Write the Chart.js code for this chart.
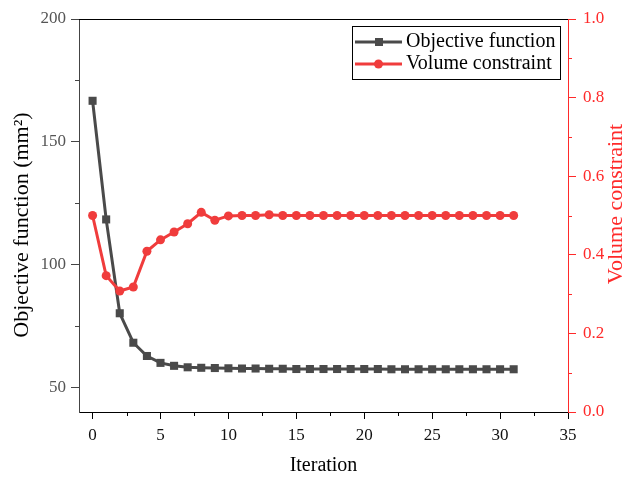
<!DOCTYPE html>
<html>
<head>
<meta charset="utf-8">
<script src="https://cdn.jsdelivr.net/npm/chart.js@4.4.1/dist/chart.umd.min.js"></script>
<style>
  body { margin: 0; background: #fff; }
  #wrap { width: 626px; height: 478px; }
</style>
</head>
<body>
<div id="wrap"><canvas id="myChart"></canvas></div>
<script>
const iterations = [0, 1, 2, 3, 4, 5, 6, 7, 8, 9, 10, 11, 12, 13, 14, 15, 16, 17, 18, 19, 20, 21, 22, 23, 24, 25, 26, 27, 28, 29, 30, 31];
const objective = [166.7, 118.4, 80.2, 68.2, 62.8, 60.0, 58.8, 58.2, 58.0, 57.9, 57.8, 57.7, 57.7, 57.6, 57.6, 57.5,
  57.5, 57.5, 57.5, 57.5, 57.5, 57.5, 57.4, 57.4, 57.4, 57.4, 57.4, 57.4, 57.4, 57.4, 57.4, 57.4];
const volume = [0.50, 0.347, 0.308, 0.318, 0.409, 0.438, 0.458, 0.479, 0.508, 0.488, 0.499, 0.50, 0.50, 0.502, 0.50, 0.50,
  0.50, 0.50, 0.50, 0.50, 0.50, 0.50, 0.50, 0.50, 0.50, 0.50, 0.50, 0.50, 0.50, 0.50, 0.50, 0.50];

const xTicks = [0, 5, 10, 15, 20, 25, 30, 35];
const xMinor = [2.5, 7.5, 12.5, 17.5, 22.5, 27.5, 32.5];
const yTicks = [50, 100, 150, 200];
const yMinor = [75, 125, 175];
const y1Ticks = [0, 0.2, 0.4, 0.6, 0.8, 1.0];
const y1Minor = [0.1, 0.3, 0.5, 0.7, 0.9];

const yTitle = 'Objective function (mm²)';
const y1Title = 'Volume constraint';

const GRAY = '#4a4a4a';
const RED = '#f03c3c';
const AXRED = '#ff2a2a';
const SERIF = '"Liberation Serif", "Times New Roman", serif';

const setTicks = (list) => (scale) => { scale.ticks = list.map(v => ({value: v})); };

function vText(ctx, text, x, y, color) {
  ctx.save();
  ctx.translate(x, y);
  ctx.rotate(-Math.PI / 2);
  ctx.fillStyle = color;
  ctx.font = '22px ' + SERIF;
  ctx.textAlign = 'center';
  ctx.textBaseline = 'middle';
  ctx.fillText(text, 0, 0);
  ctx.restore();
}

const frame = {
  id: 'frame',
  afterDraw(chart) {
    const {ctx, chartArea: a, scales} = chart;
    ctx.save();
    ctx.lineWidth = 1;
    // top border
    ctx.strokeStyle = '#000';
    ctx.beginPath();
    ctx.moveTo(a.left, a.top + 0.5);
    ctx.lineTo(a.right, a.top + 0.5);
    ctx.stroke();
    // minor ticks
    ctx.beginPath();
    xMinor.forEach(v => {
      const px = Math.round(scales.x.getPixelForValue(v)) + 0.5;
      ctx.moveTo(px, a.bottom);
      ctx.lineTo(px, a.bottom + 4);
    });
    ctx.stroke();
    ctx.strokeStyle = '#444';
    ctx.beginPath();
    yMinor.forEach(v => {
      const py = Math.round(scales.y.getPixelForValue(v)) + 0.5;
      ctx.moveTo(a.left, py);
      ctx.lineTo(a.left - 4, py);
    });
    ctx.stroke();
    ctx.strokeStyle = AXRED;
    ctx.beginPath();
    y1Minor.forEach(v => {
      const py = Math.round(scales.y1.getPixelForValue(v)) + 0.5;
      ctx.moveTo(a.right, py);
      ctx.lineTo(a.right + 4, py);
    });
    ctx.stroke();

    // axis titles (both read bottom to top)
    vText(ctx, yTitle, 22, 225, '#000');
    vText(ctx, y1Title, 616, 204, AXRED);

    // legend box
    ctx.strokeStyle = '#000';
    ctx.lineWidth = 1;
    ctx.strokeRect(352.5, 26.5, 208, 53);
    const rows = [
      {ds: chart.data.datasets[1], y: 42},
      {ds: chart.data.datasets[0], y: 64}
    ];
    rows.forEach(r => {
      ctx.strokeStyle = r.ds.borderColor;
      ctx.lineWidth = 3;
      ctx.beginPath();
      ctx.moveTo(355, r.y);
      ctx.lineTo(402, r.y);
      ctx.stroke();
      ctx.fillStyle = r.ds.backgroundColor;
      if (r.ds.pointStyle === 'rect') {
        ctx.fillRect(375, r.y - 4, 8, 8);
      } else {
        ctx.beginPath();
        ctx.arc(378.5, r.y, 4.5, 0, Math.PI * 2);
        ctx.fill();
      }
      ctx.fillStyle = '#000';
      ctx.font = '20px ' + SERIF;
      ctx.textBaseline = 'middle';
      ctx.textAlign = 'left';
      ctx.fillText(r.ds.label, 406, r.y);
    });
    ctx.restore();
  }
};

const ctx = document.getElementById('myChart').getContext('2d');

const myChart = new Chart(ctx, {
  type: 'line',
  data: {
    labels: iterations,
    datasets: [{
      label: 'Volume constraint',
      data: iterations.map((x, i) => ({x: x, y: volume[i]})),
      yAxisID: 'y1',
      borderColor: RED,
      backgroundColor: RED,
      borderWidth: 3,
      pointStyle: 'circle',
      pointRadius: 4.5,
      pointBorderWidth: 0,
      tension: 0,
      order: 0
    }, {
      label: 'Objective function',
      data: iterations.map((x, i) => ({x: x, y: objective[i]})),
      yAxisID: 'y',
      borderColor: GRAY,
      backgroundColor: GRAY,
      borderWidth: 3,
      pointStyle: 'rect',
      pointRadius: 5.7,
      pointBorderWidth: 0,
      tension: 0,
      order: 1
    }]
  },
  options: {
    responsive: true,
    maintainAspectRatio: false,
    animation: false,
    layout: { padding: {top: 19, left: 0, right: 0, bottom: 0} },
    plugins: {
      legend: { display: false },
      tooltip: { enabled: false }
    },
    scales: {
      x: {
        type: 'linear',
        min: -1,
        max: 35,
        afterBuildTicks: setTicks(xTicks),
        afterFit: (s) => { s.height = 66; },
        border: { color: '#000', width: 1 },
        grid: { drawOnChartArea: false, tickLength: 7, tickColor: '#000' },
        ticks: { color: '#111', padding: 6, font: { family: SERIF, size: 17 } },
        title: {
          display: true,
          text: 'Iteration',
          color: '#000',
          font: { family: SERIF, size: 20, lineHeight: 1.2 },
          padding: { top: 0, bottom: 0 }
        }
      },
      y: {
        position: 'left',
        min: 40,
        max: 200,
        afterBuildTicks: setTicks(yTicks),
        afterFit: (s) => { s.width = 79; },
        border: { color: '#444', width: 1 },
        grid: { drawOnChartArea: false, tickLength: 8, tickColor: '#444' },
        ticks: { color: '#555', padding: 5, font: { family: SERIF, size: 17 } }
      },
      y1: {
        position: 'right',
        min: 0,
        max: 1,
        afterBuildTicks: setTicks(y1Ticks),
        afterFit: (s) => { s.width = 58; },
        border: { color: AXRED, width: 1 },
        grid: { drawOnChartArea: false, tickLength: 8, tickColor: AXRED },
        ticks: {
          color: AXRED,
          padding: 7,
          font: { family: SERIF, size: 17 },
          callback: (v) => Number(v).toFixed(1)
        }
      }
    }
  },
  plugins: [frame]
});
</script>
</body>
</html>
